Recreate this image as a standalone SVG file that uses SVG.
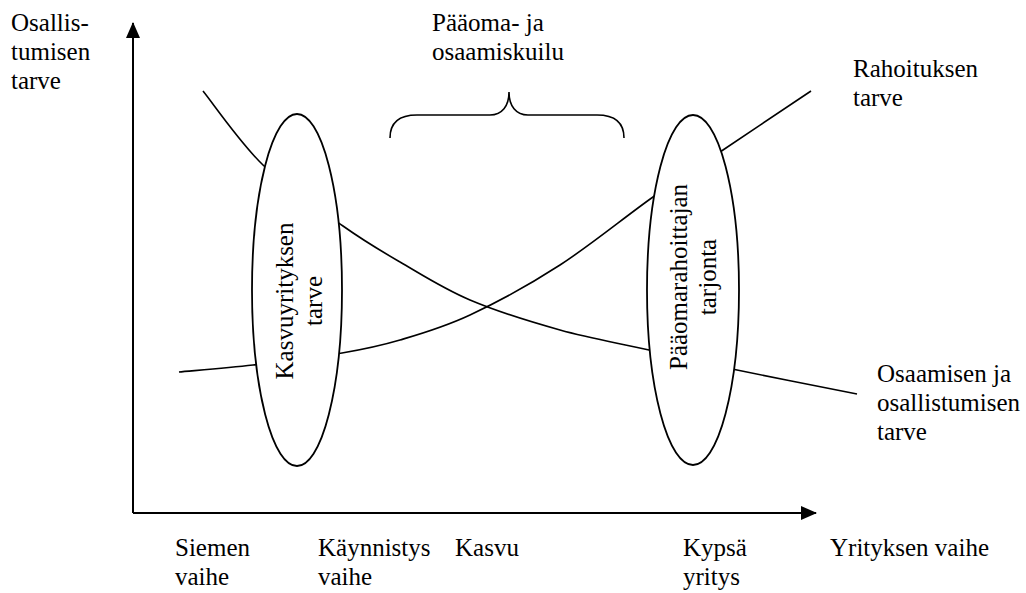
<svg xmlns="http://www.w3.org/2000/svg" width="1026" height="593" viewBox="0 0 1026 593">
<style>
text{font-family:"Liberation Serif","Times New Roman",serif;font-size:25px;fill:#000}
.ln{fill:none;stroke:#000;stroke-width:1.6}
.ax{fill:none;stroke:#000;stroke-width:2}
.el{fill:#fff;stroke:#000;stroke-width:1.8}
</style>
<defs>
<marker id="ah" viewBox="0 0 16 14" refX="15" refY="7" markerWidth="16" markerHeight="14" markerUnits="userSpaceOnUse" orient="auto">
<path d="M0,0 L16,7 L0,14 Z" fill="#000"/>
</marker>
</defs>
<rect width="1026" height="593" fill="#fff"/>
<g id="connectors">
<path class="ax" d="M133,513 L133,23" marker-end="url(#ah)"/>
<path class="ax" d="M133,513 L816,513" marker-end="url(#ah)"/>
<path id="curve-osaaminen" class="ln" d="M203,91 C213,103.3 239.7,142.5 263,165 C286.3,187.5 320.2,209.8 343,226 C365.8,242.2 378.8,249.7 400,262 C421.2,274.3 443.3,288.7 470,300 C496.7,311.3 530.2,321.7 560,330 C589.8,338.3 619.5,343.3 649,350 C678.5,356.7 702.3,362.7 737,370 C771.7,377.3 837,390 857,394"/>
<path id="curve-rahoitus" class="ln" d="M179,372 C191.3,370.8 225.8,368.2 253,365 C280.2,361.8 317.5,357.2 342,353 C366.5,348.8 378.7,346.3 400,340 C421.3,333.7 443.3,327.5 470,315 C496.7,302.5 529.5,284.7 560,265 C590.5,245.3 625.8,216.2 653,197 C680.2,177.8 696.7,167.7 723,150 C749.3,132.3 796.3,100.8 811,91"/>
<path id="brace" class="ln" d="M390,138 C390,124 398,115 417,115 L490,115 C502,115 509,106 509,92 C509,106 516,115 528,115 L597,115 C616,115 624,124 624,138"/>
</g>
<g id="node-kasvuyritys">
<ellipse class="el" cx="297" cy="290" rx="45" ry="176"/>
<g transform="translate(297,301) rotate(-90)">
<text x="0" y="-4" text-anchor="middle">Kasvuyrityksen</text>
<text x="0" y="25" text-anchor="middle">tarve</text>
</g>
</g>
<g id="node-paaomarahoittaja">
<ellipse class="el" cx="693" cy="290" rx="46" ry="175"/>
<g transform="translate(693,277) rotate(-90)">
<text x="0" y="-6" text-anchor="middle">Pääomarahoittajan</text>
<text x="0" y="23" text-anchor="middle">tarjonta</text>
</g>
</g>
<g id="label-yaxis">
<text x="11" y="31">Osallis-</text>
<text x="11" y="60">tumisen</text>
<text x="11" y="89">tarve</text>
</g>
<g id="label-kuilu">
<text x="432" y="31">Pääoma- ja</text>
<text x="432" y="60">osaamiskuilu</text>
</g>
<g id="label-rahoitus">
<text x="853" y="77">Rahoituksen</text>
<text x="853" y="106">tarve</text>
</g>
<g id="label-osaaminen">
<text x="877" y="382">Osaamisen ja</text>
<text x="877" y="411">osallistumisen</text>
<text x="877" y="440">tarve</text>
</g>
<g id="label-xaxis">
<text x="175" y="556">Siemen</text>
<text x="175" y="585">vaihe</text>
<text x="318" y="556">Käynnistys</text>
<text x="318" y="585">vaihe</text>
<text x="455" y="556">Kasvu</text>
<text x="683" y="556">Kypsä</text>
<text x="683" y="585">yritys</text>
<text x="830" y="556">Yrityksen vaihe</text>
</g>
</svg>
